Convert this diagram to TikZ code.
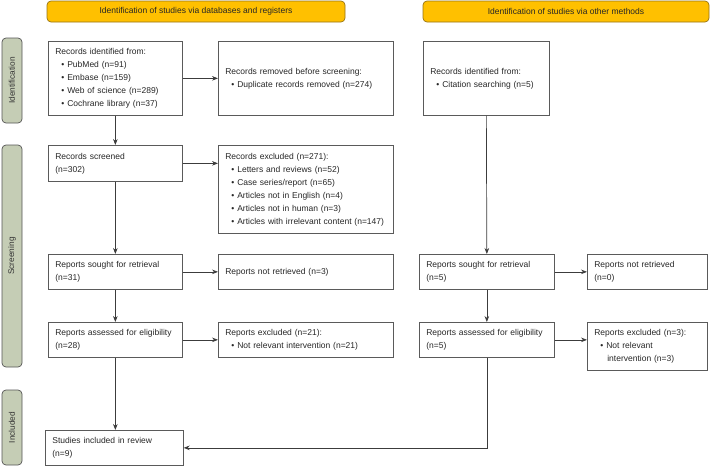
\documentclass[tikz,border=0pt]{standalone}
\usepackage{fontspec}
\setmainfont{Liberation Sans}
\usetikzlibrary{arrows.meta}
\definecolor{hdrfill}{RGB}{255,192,0}
\definecolor{hdrline}{RGB}{150,115,20}
\definecolor{sidefill}{RGB}{197,205,181}
\definecolor{sideline}{RGB}{85,85,85}
\definecolor{boxline}{RGB}{90,90,90}
\definecolor{arrline}{RGB}{60,60,60}
\newcommand\bul[1]{\hspace*{6pt}\textbullet\hspace{3pt}#1}
\newcommand\bulcont{\hspace*{13pt}}
\tikzset{
  box/.style={draw=boxline, line width=0.7pt, anchor=north west, align=left,
    inner xsep=7pt, inner ysep=0pt, font=\fontsize{8.5}{13}\selectfont, text=black!85},
  hdr/.style={draw=hdrline, fill=hdrfill, line width=0.7pt, rounded corners=4pt,
    minimum height=21pt, inner sep=0pt, font=\fontsize{8.5}{10}\selectfont, text=black!85},
  side/.style={draw=sideline, fill=sidefill, line width=0.7pt, rounded corners=4pt,
    rotate=90, minimum height=20pt, inner sep=0pt, font=\fontsize{8.3}{10}\selectfont, text=black!80},
  arr/.style={draw=arrline, line width=0.7pt, -{Stealth[length=6pt,width=4.6pt]}}
}
\begin{document}
\begin{tikzpicture}[x=1pt,y=-1pt]
\useasboundingbox (0,0) rectangle (710,466);
% headers
\node[hdr, minimum width=298pt] (h1) at (196,11.5) {Identification of studies via databases and registers};
\node[hdr, minimum width=286pt] (h2) at (566,11.5) {Identification of studies via other methods};
% side labels
\node[side, minimum width=85pt] (s1) at (12,80.5) {Identification};
\node[side, minimum width=222pt] (s2) at (12,256) {Screening};
\node[side, minimum width=75pt] (s3) at (12,427.5) {Included};
% left column
\node[box, minimum width=134pt, text width=120pt, minimum height=74pt] (id) at (48,41)
  {Records identified from:\\\bul{PubMed (n=91)}\\\bul{Embase (n=159)}\\\bul{Web of science (n=289)}\\\bul{Cochrane library (n=37)}};
\node[box, minimum width=175pt, text width=161pt, minimum height=74pt] (rem) at (218,41)
  {Records removed before screening:\\\bul{Duplicate records removed (n=274)}};
\node[box, minimum width=134pt, text width=120pt, minimum height=36pt] (scr) at (48,145)
  {Records screened\\(n=302)};
\node[box, minimum width=175pt, text width=161pt, minimum height=88pt] (exc) at (218,145)
  {Records excluded (n=271):\\\bul{Letters and reviews (n=52)}\\\bul{Case series/report (n=65)}\\\bul{Articles not in English (n=4)}\\\bul{Articles not in human (n=3)}\\\bul{Articles with irrelevant content (n=147)}};
\node[box, minimum width=134pt, text width=120pt, minimum height=35pt] (soL) at (48,254)
  {Reports sought for retrieval\\(n=31)};
\node[box, minimum width=175pt, text width=161pt, minimum height=35pt] (nrL) at (218,254)
  {Reports not retrieved (n=3)};
\node[box, minimum width=134pt, text width=120pt, minimum height=35pt] (asL) at (48,322)
  {Reports assessed for eligibility\\(n=28)};
\node[box, minimum width=175pt, text width=161pt, minimum height=35pt] (exL) at (218,322)
  {Reports excluded (n=21):\\\bul{Not relevant intervention (n=21)}};
\node[box, minimum width=138pt, text width=124pt, minimum height=35pt] (inc) at (45,430)
  {Studies included in review\\(n=9)};
% right column
\node[box, minimum width=126pt, text width=112pt, minimum height=74pt] (idR) at (423,41)
  {Records identified from:\\\bul{Citation searching (n=5)}};
\node[box, minimum width=135pt, text width=121pt, minimum height=35pt] (soR) at (419,254)
  {Reports sought for retrieval\\(n=5)};
\node[box, minimum width=120pt, text width=106pt, minimum height=35pt] (nrR) at (587,254)
  {Reports not retrieved\\(n=0)};
\node[box, minimum width=135pt, text width=121pt, minimum height=35pt] (asR) at (419,322)
  {Reports assessed for eligibility\\(n=5)};
\node[box, minimum width=120pt, text width=106pt, minimum height=48pt] (exR) at (587,322)
  {Reports excluded (n=3):\\\bul{Not relevant}\\\bulcont intervention (n=3)};
% connectors
\draw[arr] (id.east) -- (rem.west);
\draw[arr] (id.south) -- (scr.north);
\draw[arr] (scr.east) -- (exc.west |- scr.east);
\draw[arr] (scr.south) -- (soL.north);
\draw[arr] (soL.east) -- (nrL.west);
\draw[arr] (soL.south) -- (asL.north);
\draw[arr] (asL.east) -- (exL.west);
\draw[arr] (asL.south) -- (inc.north -| asL.south);
\draw[arr] (idR.south) -- (soR.north);
\draw[arr] (soR.east) -- (nrR.west);
\draw[arr] (soR.south) -- (asR.north);
\draw[arr] (asR.east) -- (exR.west |- asR.east);
\draw[arr] (asR.south) |- (inc.east);
\end{tikzpicture}
\end{document}
